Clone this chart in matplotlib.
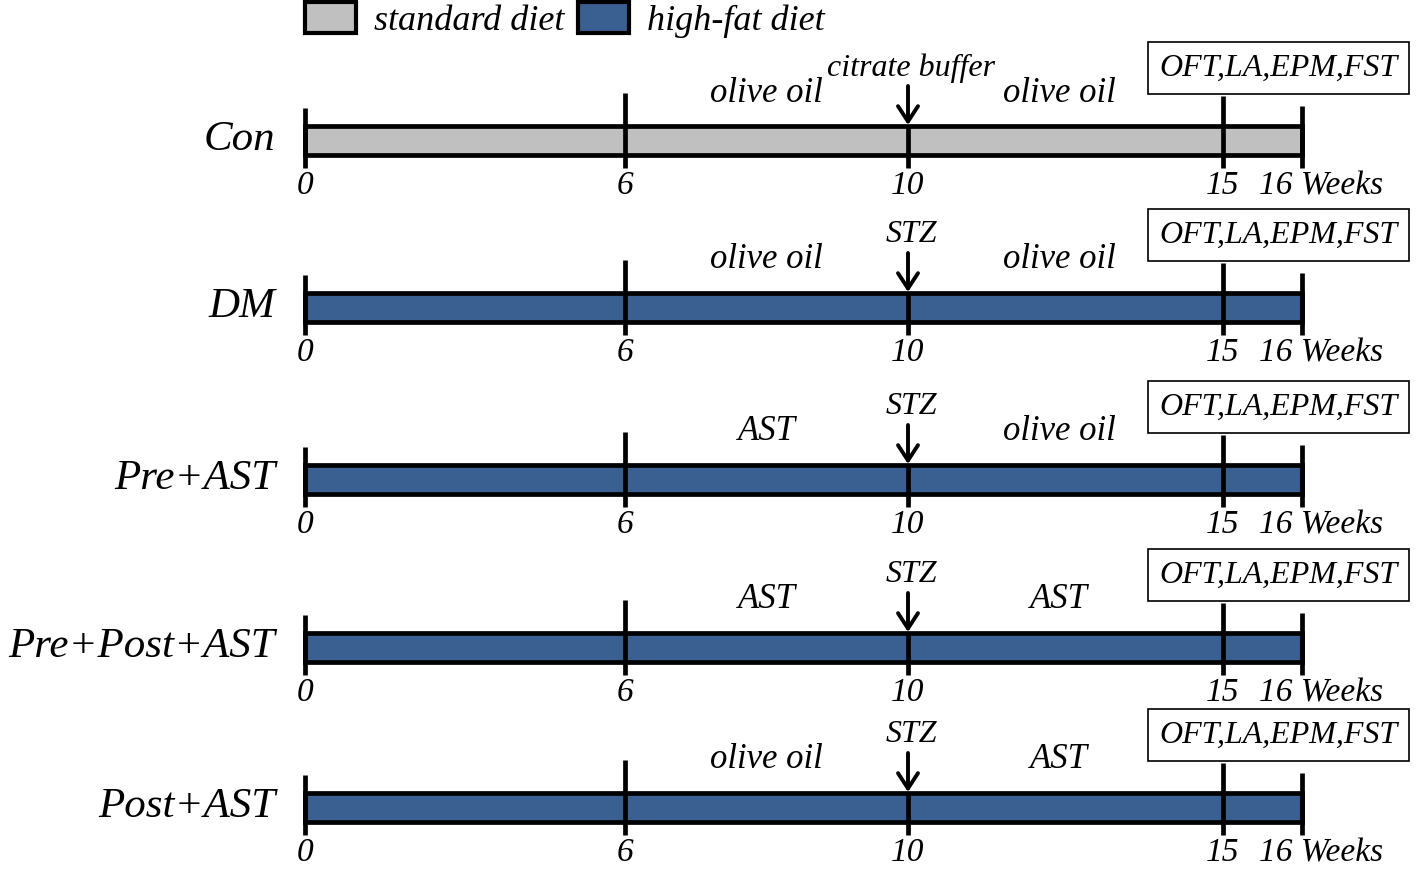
import matplotlib
matplotlib.use("Agg")
import matplotlib.pyplot as plt
from matplotlib.patches import Patch
import numpy as np

# groups and protocol
groups = ["Con", "DM", "Pre+AST", "Pre+Post+AST", "Post+AST"]
diet = ["standard diet", "high-fat diet", "high-fat diet", "high-fat diet", "high-fat diet"]
injection = ["citrate buffer", "STZ", "STZ", "STZ", "STZ"]
before_tx = ["olive oil", "olive oil", "AST", "AST", "olive oil"]
after_tx = ["olive oil", "olive oil", "olive oil", "AST", "AST"]
tests = "OFT,LA,EPM,FST"
weeks = [0, 6, 10, 15, 16]
inject_week = 10
test_week = 15
end_week = 16

diet_colors = {"standard diet": "#c0c0c0", "high-fat diet": "#3a6092"}

# layout (pixels from top)
row_y = [140, 307, 479, 647, 807]

# the drawn timeline is not evenly spaced, map weeks onto it with a scale
wk_anchor = [-20, 0, 6, 10, 15, 16, 40]
px_anchor = [-1067, 0, 320, 603, 918, 997, 2917]


def fwd(w):
    return np.interp(w, wk_anchor, px_anchor)


def inv(p):
    return np.interp(p, px_anchor, wk_anchor)


plt.rcParams["font.family"] = ["Liberation Serif", "DejaVu Serif"]
plt.rcParams["font.style"] = "italic"

fig = plt.figure(figsize=(14.17, 8.73), dpi=100)
ax = fig.add_axes([0, 0, 1, 1])
ax.set_xscale("function", functions=(fwd, inv))
ax.set_xlim(inv(-305), inv(1417 - 305))
ax.set_ylim(873, 0)
ax.axis("off")

lw = 3.4
tick_top = {0: -32, 6: -47, 10: 0, 15: -44, 16: -34}

for i, g in enumerate(groups):
    yc = row_y[i]
    ax.barh(yc, end_week, left=0, height=29, color=diet_colors[diet[i]],
            edgecolor="black", linewidth=lw, zorder=2)
    for w in weeks:
        top = yc + tick_top[w] if tick_top[w] else yc - 15
        ax.vlines(w, top, yc + 28, color="black", linewidth=lw, zorder=3)

    # injection arrow
    ax.annotate("", xy=(inject_week, yc - 15), xytext=(inject_week, yc - 54),
                arrowprops=dict(arrowstyle="->,head_length=0.55,head_width=0.36",
                                lw=2.8, color="black", shrinkA=0, shrinkB=0,
                                mutation_scale=20), zorder=4)
    ax.text(inject_week + 0.05, yc - 72, injection[i], fontsize=23,
            ha="center", va="center")
    ax.text(8, yc - 47, before_tx[i], fontsize=25, ha="center", va="center")
    ax.text(12.4, yc - 47, after_tx[i], fontsize=25, ha="center", va="center")

    # behaviour tests box
    ax.text(15.7, yc - 72, tests, fontsize=23, ha="center", va="center",
            bbox=dict(boxstyle="square,pad=0.35", facecolor="white",
                      edgecolor="black", linewidth=1.2), zorder=5)

    # week numbers
    for w in weeks[:-1]:
        ax.text(w, yc + 46, str(w), fontsize=24, ha="center", va="center")
    ax.text(15.45, yc + 46, f"{end_week} Weeks", fontsize=24, ha="left", va="center")

    # group name
    ax.text(275 / 1417, yc, g, fontsize=31, ha="right", va="center",
            transform=ax.get_yaxis_transform())

handles = [Patch(facecolor=diet_colors[d], edgecolor="black", linewidth=3)
           for d in ["standard diet", "high-fat diet"]]
fig.legend(handles, ["standard diet", "high-fat diet"], ncol=2, frameon=False,
           loc="upper left", bbox_to_anchor=(305 / 1417, 1 - 2 / 873),
           fontsize=26, handlelength=1.4, handleheight=0.95, handletextpad=0.5,
           columnspacing=0.4, borderpad=0, borderaxespad=0)

fig.savefig("out.png", dpi=100)
